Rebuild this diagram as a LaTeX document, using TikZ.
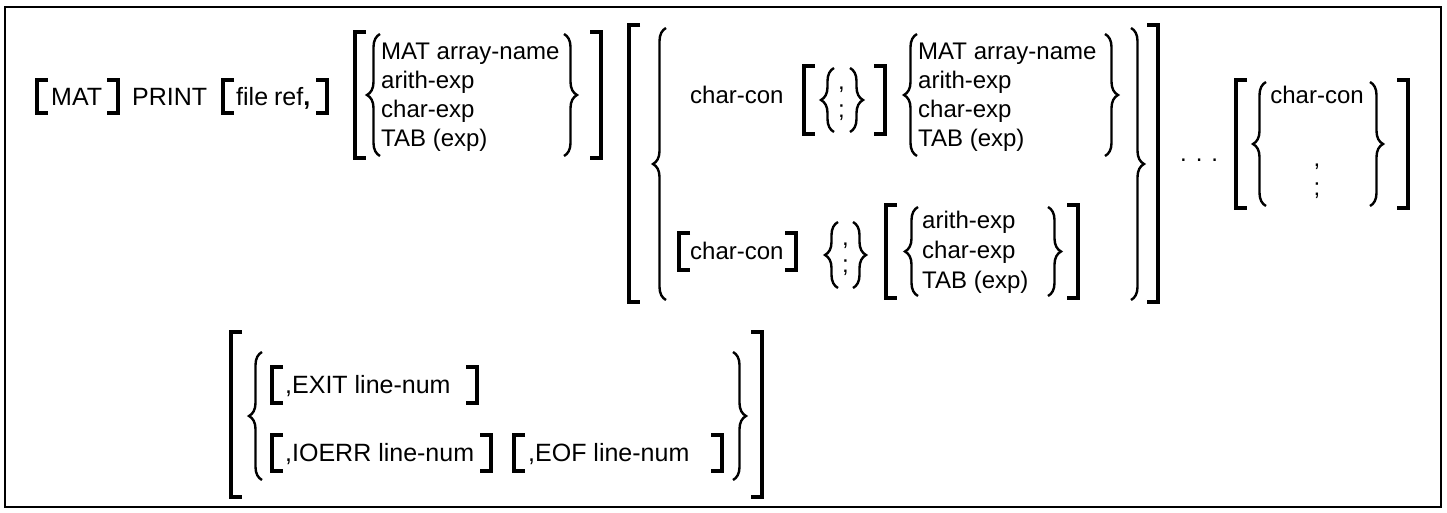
\documentclass[tikz,border=0pt]{standalone}
\usepackage{fontspec}
\setmainfont{Liberation Sans}
\usepackage{tikz}
\usetikzlibrary{decorations.pathreplacing}

% square brackets: x of the upright, top y, bottom y (y counts down)
\newcommand{\sqL}[3]{\draw[brk] ({#1+11},#2) -- (#1,#2) -- (#1,#3) -- ({#1+11},#3);}
\newcommand{\sqR}[3]{\draw[brk] ({#1-11},#2) -- (#1,#2) -- (#1,#3) -- ({#1-11},#3);}
% braces: x of the flat side, top y, bottom y
\newcommand{\crL}[3]{\draw[brc] (#1,#3) -- (#1,#2);}
\newcommand{\crR}[3]{\draw[brc] (#1,#2) -- (#1,#3);}

\begin{document}
\begin{tikzpicture}[x=1pt,y=-1pt,
		brk/.style={line width=3.6pt},
		brc/.style={line width=2.4pt,decorate,decoration={brace,amplitude=13pt}},
		opt/.style={anchor=base west,inner sep=0pt,font=\fontsize{24}{28}\selectfont},
		low/.style={anchor=base west,inner sep=0pt,font=\fontsize{25}{29}\selectfont},
		key/.style={anchor=base west,inner sep=0pt,font=\fontsize{25}{29}\selectfont}]
		\useasboundingbox (0,0) rectangle (1447,513);
		\draw[line width=2pt] (5,7) rectangle (1441,507);
		% [MAT] PRINT [file ref,]
		\sqL{37}{80}{113}
		\node[key] (mat) at (51,106) {MAT};
		\sqR{118}{80}{113}
		\node[key] (print) at (132,106) {PRINT};
		\sqL{223}{80}{113}
		\node[key] (fileref) at (236,106) {file\hspace{6pt}ref\textbf{,}};
		\sqR{327}{80}{113}
		% first list
		\sqL{355}{32}{158}
		\crL{380}{34}{156}
		\foreach \t [count=\i] in {MAT array-name,arith-exp,char-exp,TAB (exp)}{
			\node[opt] (ga\i) at (381,{31+29*\i}) {\t};
		}
		\crR{564}{34}{156}
		\sqR{601}{32}{158}
		% second list, upper choice
		\sqL{629}{25}{302}
		\crL{666}{28}{300}
		\node[opt] (cha) at (690,104) {char-con};
		\sqL{804}{66}{134}
		\crL{834}{68}{132}
		\node[opt] (cma) at (838,90) {,};
		\node[opt] (sca) at (838,118) {;};
		\crR{850}{68}{132}
		\sqR{885}{66}{134}
		\crL{917}{34}{156}
		\foreach \t [count=\i] in {MAT array-name,arith-exp,char-exp,TAB (exp)}{
			\node[opt] (gb\i) at (918,{31+29*\i}) {\t};
		}
		\crR{1105}{34}{156}
		% second list, lower choice
		\sqL{679}{233}{270}
		\node[opt] (chb) at (690,259) {char-con};
		\sqR{796}{233}{270}
		\crL{838}{222}{288}
		\node[opt] (cmb) at (842,245) {,};
		\node[opt] (scb) at (842,272) {;};
		\crR{853}{222}{288}
		\sqL{886}{205}{298}
		\crL{918}{207}{296}
		\foreach \t [count=\i] in {arith-exp,char-exp,TAB (exp)}{
			\node[opt] (gc\i) at (922,{198+30*\i}) {\t};
		}
		\crR{1048}{207}{296}
		\sqR{1078}{205}{298}
		\crR{1131}{28}{300}
		\sqR{1158}{25}{302}
		\node[opt] (dots) at (1180,162) {. . .};
		% trailing separator
		\sqL{1236}{80}{208}
		\crL{1266}{82}{206}
		\node[opt,anchor=base] (chc) at (1317,104) {char-con};
		\node[opt,anchor=base] (cmc) at (1317,167) {,};
		\node[opt,anchor=base] (scc) at (1317,195) {;};
		\crR{1370}{82}{206}
		\sqR{1408}{80}{208}
		% EXIT / IOERR / EOF
		\sqL{231}{332}{497}
		\crL{262}{352}{480}
		\sqL{272}{367}{403}
		\node[low] (exit) at (285,393) {,EXIT line-num};
		\sqR{477}{367}{403}
		\sqL{272}{435}{471}
		\node[low] (ioerr) at (285,461) {,IOERR line-num};
		\sqR{491}{435}{471}
		\sqL{514}{435}{471}
		\node[low] (eof) at (528,461) {,EOF line-num};
		\sqR{722}{435}{471}
		\crR{733}{352}{480}
		\sqR{762}{332}{497}
	\end{tikzpicture}
\end{document}
